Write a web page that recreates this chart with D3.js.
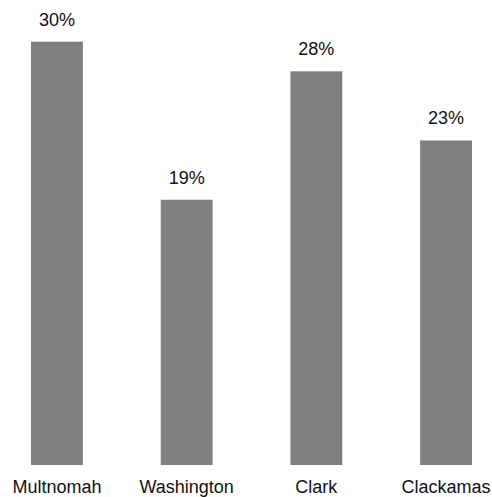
<!DOCTYPE html>
<html>
<head>
  <meta charset="UTF-8">
  <script src="https://d3js.org/d3.v7.min.js"></script>
  <style>
    * { margin: 0; padding: 0; box-sizing: border-box; }
    body { background: #fff; font-family: "Liberation Sans", Arial, sans-serif; }
  </style>
</head>
<body>
  <div id="chart"></div>
  <script>
    const counties = ["Multnomah", "Washington", "Clark", "Clackamas"];
    // shares in percent
    const shares = [30, 18.8, 27.9, 23.0];

    const width = 492, height = 497;
    const bottom = 465;

    const svg = d3.select("#chart")
                  .append("svg")
                  .attr("width", width)
                  .attr("height", height);

    const data = counties.map((c, i) => ({county: c, value: shares[i]}));

    const x = d3.scaleBand()
                .domain(counties)
                .range([31, 472])
                .paddingInner(0.6)
                .paddingOuter(0);

    const y = d3.scaleLinear()
                .domain([0, 30])
                .range([bottom, 41.7]);

    svg.selectAll(".bar")
       .data(data)
       .enter()
       .append("rect")
       .attr("class", "bar")
       .attr("x", d => x(d.county))
       .attr("y", d => y(d.value))
       .attr("width", x.bandwidth())
       .attr("height", d => bottom - y(d.value))
       .attr("fill", "#808080");

    svg.selectAll(".label")
       .data(data)
       .enter()
       .append("text")
       .attr("class", "label")
       .attr("x", d => x(d.county) + x.bandwidth() / 2)
       .attr("y", d => y(d.value) - 16)
       .attr("text-anchor", "middle")
       .style("font-size", "18px")
       .style("fill", "#111")
       .text(d => d3.format(".0f")(d.value) + "%");

    // category axis, no lines
    const xAxis = svg.append("g")
       .attr("transform", `translate(0, ${bottom})`)
       .call(d3.axisBottom(x).tickSize(0).tickPadding(0));
    xAxis.select(".domain").remove();
    xAxis.selectAll("text")
         .attr("dy", null)
         .attr("y", 28)
         .style("font-family", "'Liberation Sans', Arial, sans-serif")
         .style("font-size", "18px")
         .style("fill", "#111");
  </script>
</body>
</html>
